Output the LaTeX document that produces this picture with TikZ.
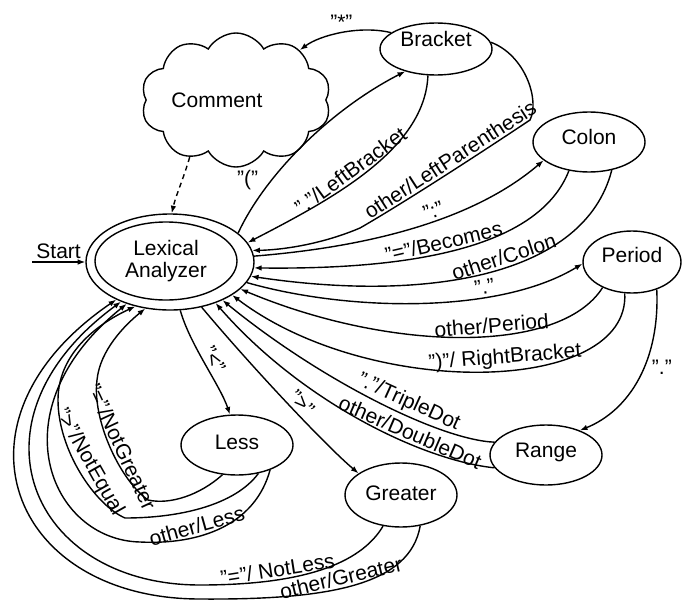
\documentclass[tikz,border=0pt]{standalone}
\usepackage{fontspec}
\setmainfont{Liberation Sans}
\usetikzlibrary{shapes.geometric,shapes.symbols,arrows.meta}
\begin{document}
\begin{tikzpicture}[x=0.5pt,y=-0.5pt,
  line width=0.7pt,
  every node/.style={font=\fontsize{10.5}{11}\selectfont},
  state/.style={draw, ellipse, inner sep=0pt, text height=7.5pt},
  arr/.style={-{Latex[length=3.8pt,width=2.8pt]}},
  lbl/.style={sloped, above, inner sep=1.2pt},
  plain/.style={inner sep=1.5pt}]
\useasboundingbox (0,0) rectangle (685,605);

% states
\node[draw, ellipse, minimum width=84pt, minimum height=48pt, inner sep=0pt] (lex) at (170,262) {};
\node[draw, ellipse, minimum width=71pt, minimum height=39pt, inner sep=0pt, align=center] (lexin) at (166,261) {Lexical\\Analyzer};
\node[draw, cloud, cloud puffs=10, cloud puff arc=120, aspect=1.45,
      minimum width=95pt, minimum height=67pt, inner sep=0pt] (comment) at (236,100) {\hspace*{-19pt}Comment};
\node[state, minimum width=56pt, minimum height=26pt, text depth=10pt] (bracket) at (436,49) {Bracket};
\node[state, minimum width=56pt, minimum height=30pt, text depth=5pt] (colon) at (589,142) {Colon};
\node[state, minimum width=49pt, minimum height=31pt, text depth=7pt] (period) at (632,262) {Period};
\node[state, minimum width=56pt, minimum height=30pt, text depth=5pt] (range) at (546,455) {Range};
\node[state, minimum width=56pt, minimum height=32pt, text depth=2pt] (greater) at (401,495) {Greater};
\node[state, minimum width=56pt, minimum height=30pt, text depth=3pt] (less) at (237,445) {Less};

% entry
\coordinate (s0) at (32,262);
\draw[arr] (s0) -- node[above, plain] {Start} (lex.180);

% comment back to the analyzer
\draw[arr, dash pattern=on 2.5pt off 2pt] (comment.231) .. controls (183,180) and (176,195) .. (lex.88);

% bracket state
\draw[arr] (lex.23) .. controls (265,175) and (330,110) .. (bracket.216)
  node[pos=0.3, left=5pt, plain] {"("};
\draw[arr] (bracket.160) .. controls (360,25) and (320,35) .. (comment.38)
  node[pos=0.5, above, plain] {"*"};
\draw[arr] (bracket.253) .. controls (425,150) and (330,200) .. (lex.14.6)
  node[lbl, pos=0.55] {"."/LeftBracket};
\draw[arr] (bracket.7) .. controls (525,55) and (540,100) .. (530,120)
  .. controls (470,160) and (400,205) .. (360,228) node[lbl, pos=0.4] {other/LeftParenthesis}
  .. controls (320,245) and (280,250) .. (lex.8.9);

% colon state
\draw[arr] (lex.4) .. controls (330,250) and (460,232) .. (colon.202)
  node[lbl, pos=0.63] {":"};
\draw[arr] (colon.235) .. controls (540,245) and (420,270) .. (lex.-4)
  node[lbl, pos=0.55] {"="/Becomes};
\draw[arr] (colon.309) .. controls (585,275) and (430,303) .. (lex.-10)
  node[lbl, pos=0.45] {other/Colon};

% period state
\draw[arr] (lex.-15) .. controls (350,312) and (500,314) .. (period.182)
  node[lbl, pos=0.68] {"."};
\draw[arr] (period.221) .. controls (560,355) and (390,352) .. (lex.-21)
  node[lbl, pos=0.42] {other/Period};
\draw[arr] (period.257) .. controls (630,395) and (370,400) .. (lex.-28)
  node[lbl, pos=0.45] {")"/ RightBracket};
\draw[arr] (period.312) .. controls (660,360) and (630,410) .. (range.36)
  node[pos=0.42, right=2pt, plain] {"."};

% range state
\draw[arr] (range.166) .. controls (440,440) and (320,380) .. (lex.-36)
  node[lbl, pos=0.4] {"."/TripleDot};
\draw[arr] (range.194) .. controls (420,460) and (300,400) .. (lex.-42.5)
  node[lbl, pos=0.34] {other/DoubleDot};

% less and greater states
\draw[arr] (lex.-55) .. controls (250,365) and (325,445) .. (greater.153)
  node[lbl, pos=0.55] {">"};
\draw[arr] (lex.-78.5) .. controls (190,345) and (220,385) .. (less.103)
  node[lbl, pos=0.5] {"<"};

\draw[arr] (less.244) .. controls (200,495) and (170,505) .. (148,500)
  .. controls (120,480) and (92,420) .. (97,380) node[lbl, pos=0.47] {"="/NotGreater}
  .. controls (100,350) and (125,325) .. (lex.242.5);
\draw[arr] (less.307) .. controls (235,505) and (180,518) .. (125,518)
  .. controls (95,505) and (58,450) .. (58,400) node[lbl, pos=0.53] {">"/NotEqual}
  .. controls (58,355) and (95,325) .. (lex.232);
\draw[arr] (less.323) .. controls (255,525) and (200,545) .. (140,542) node[lbl, pos=0.65] {other/Less}
  .. controls (50,540) and (-5,410) .. (lex.224);

\draw[arr] (greater.240.6) .. controls (360,565) and (300,585) .. (200,585) node[lbl, pos=0.7] {"="/ NotLess}
  .. controls (30,585) and (-40,420) .. (lex.219);
\draw[arr] (greater.302) .. controls (410,585) and (330,600) .. (200,599) node[lbl, pos=0.55] {other/Greater}
  .. controls (10,599) and (-60,420) .. (lex.215);
\end{tikzpicture}
\end{document}
